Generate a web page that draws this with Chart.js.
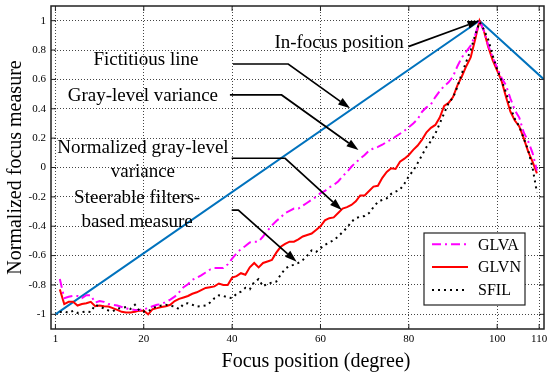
<!DOCTYPE html>
<html>
<head>
<meta charset="utf-8">
<script src="https://cdn.jsdelivr.net/npm/chart.js@4.4.0/dist/chart.umd.min.js"></script>
<style>
  html, body { margin: 0; padding: 0; background: #fff; }
</style>
</head>
<body>
<canvas id="myChart" width="550" height="378"></canvas>
<script>
// Data
const POSITIONS = Array.from({ length: 109 }, (_, i) => i + 1);

const GLVA = [
  -0.76, -0.89, -0.88, -0.875, -0.875, -0.89, -0.87, -0.87, -0.92, -0.91,
  -0.915, -0.93, -0.935, -0.94, -0.95, -0.96, -0.965, -0.97, -0.97, -0.965,
  -0.958, -0.945, -0.935, -0.93, -0.915, -0.9, -0.88, -0.85, -0.815, -0.795,
  -0.765, -0.75, -0.735, -0.715, -0.695, -0.685, -0.685, -0.685, -0.66, -0.62,
  -0.585, -0.555, -0.535, -0.51, -0.505, -0.505, -0.47, -0.43, -0.395, -0.365,
  -0.34, -0.31, -0.295, -0.28, -0.28, -0.26, -0.24, -0.22, -0.2, -0.175,
  -0.16, -0.135, -0.12, -0.095, -0.06, -0.03, 0.005, 0.035, 0.06, 0.085,
  0.115, 0.13, 0.14, 0.155, 0.175, 0.19, 0.21, 0.23, 0.25, 0.275,
  0.3, 0.33, 0.38, 0.41, 0.43, 0.48, 0.52, 0.555, 0.58, 0.62,
  0.69, 0.75, 0.79, 0.83, 0.9, 1.0, 0.93, 0.83, 0.75, 0.68,
  0.61, 0.56, 0.47, 0.39, 0.34, 0.24, 0.18, 0.1, -0.02
];

const GLVN = [
  -0.83, -0.93, -0.915, -0.915, -0.94, -0.93, -0.925, -0.915, -0.945, -0.94,
  -0.945, -0.947, -0.958, -0.97, -0.983, -0.987, -0.988, -0.983, -0.975, -0.975,
  -1.0, -0.965, -0.958, -0.95, -0.945, -0.935, -0.91, -0.895, -0.885, -0.875,
  -0.86, -0.85, -0.835, -0.82, -0.815, -0.81, -0.79, -0.8, -0.8, -0.75,
  -0.74, -0.72, -0.73, -0.68, -0.65, -0.68, -0.65, -0.64, -0.63, -0.58,
  -0.54, -0.52, -0.505, -0.505, -0.49, -0.47, -0.46, -0.45, -0.425, -0.4,
  -0.36, -0.345, -0.34, -0.31, -0.28, -0.27, -0.255, -0.23, -0.19, -0.19,
  -0.16, -0.13, -0.125, -0.07, -0.03, -0.005, -0.01, 0.04, 0.06, 0.085,
  0.12, 0.15, 0.19, 0.24, 0.27, 0.29, 0.34, 0.42, 0.44, 0.48,
  0.56, 0.62, 0.69, 0.75, 0.87, 1.0, 0.93, 0.82, 0.73, 0.66,
  0.59, 0.48, 0.38, 0.32, 0.28, 0.2, 0.11, 0.04, -0.04
];

const SFIL = [
  -0.985, -0.98, -0.99, -0.976, -0.99, -0.985, -0.98, -0.985, -0.935, -0.947,
  -0.96, -0.974, -0.98, -0.96, -0.958, -0.95, -0.963, -0.935, -0.974, -0.98,
  -0.98, -0.958, -0.947, -0.94, -0.935, -0.942, -0.947, -0.965, -0.93, -0.925,
  -0.935, -0.947, -0.945, -0.94, -0.92, -0.89, -0.87, -0.875, -0.885, -0.89,
  -0.86, -0.845, -0.82, -0.83, -0.78, -0.76, -0.81, -0.79, -0.785, -0.777,
  -0.73, -0.69, -0.67, -0.663, -0.65, -0.63, -0.6, -0.565, -0.575, -0.55,
  -0.527, -0.51, -0.495, -0.47, -0.44, -0.41, -0.37, -0.345, -0.335, -0.33,
  -0.31, -0.27, -0.235, -0.22, -0.21, -0.18, -0.165, -0.15, -0.11, -0.06,
  -0.02, 0.03, 0.085, 0.14, 0.18, 0.23, 0.3, 0.37, 0.44, 0.475,
  0.55, 0.64, 0.72, 0.8, 0.9, 0.99, 0.94, 0.87, 0.76, 0.67,
  0.59, 0.51, 0.41, 0.33, 0.28, 0.2, 0.12, 0.0, -0.17
];

// fictitious line: corner points
const FICT_X = [0, 96, 110.6];
const FICT_Y = [-1, 1, 0.6];

const X_TICKS = [0, 20, 40, 60, 80, 100, 109.5];
const X_TICK_LABELS = ['1', '20', '40', '60', '80', '100', '110'];
const Y_TICKS = [-1, -0.8, -0.6, -0.4, -0.2, 0, 0.2, 0.4, 0.6, 0.8, 1];
const Y_TICK_LABELS = ['-1', '-0.8', '-0.6', '-0.4', '-0.2', '0', '0.2', '0.4', '0.6', '0.8', '1'];

const SERIES_NAMES = ['GLVA', 'GLVN', 'SFIL'];

// text notes with leader arrows, in data units
const NOTES = [
  { lines: ['In-focus position'], at: [64.2, 0.848], path: [[79.9, 0.823], [96, 1]] },
  { lines: ['Fictitious line'], at: [20.5, 0.732], path: [[40.2, 0.705], [52.7, 0.705], [66.7, 0.403]] },
  { lines: ['Gray-level variance'], at: [19.8, 0.489], path: [[39.5, 0.494], [51.2, 0.494], [68.6, 0.119]] },
  { lines: ['Normalized gray-level', 'variance'], at: [19.8, 0.131], path: [[39.9, 0.063], [52, 0.063], [64.8, -0.29]] },
  { lines: ['Steerable filters-', 'based measure'], at: [18.5, -0.21], path: [[39.9, -0.29], [41.4, -0.29], [54.6, -0.642]] }
];

const SERIF = '"Liberation Serif", "Times New Roman", serif';
const STYLES = {
  GLVA: { color: '#ff00ff', dash: [9, 4, 2, 4] },
  GLVN: { color: '#ff0000', dash: [] },
  SFIL: { color: '#000000', dash: [2, 4] }
};

const toPoints = (values) => POSITIONS.map((p, i) => ({ x: p, y: values[i] }));

// Overlay: frame, inner ticks, notes, legend, x title
const drawArrow = (ctx, pts) => {
  const n = pts.length;
  const [tx, ty] = pts[n - 1];
  const [px, py] = pts[n - 2];
  const len = Math.hypot(tx - px, ty - py);
  const ux = (tx - px) / len, uy = (ty - py) / len;
  const head = 12, half = 4;
  const bx = tx - ux * head, by = ty - uy * head;
  ctx.beginPath();
  ctx.moveTo(pts[0][0], pts[0][1]);
  for (let i = 1; i < n - 1; i++) ctx.lineTo(pts[i][0], pts[i][1]);
  ctx.lineTo(bx, by);
  ctx.stroke();
  ctx.beginPath();
  ctx.moveTo(tx, ty);
  ctx.lineTo(bx - uy * half, by + ux * half);
  ctx.lineTo(bx + uy * half, by - ux * half);
  ctx.closePath();
  ctx.fill();
};

const overlay = {
  id: 'overlay',
  afterDraw(chart) {
    const { ctx, chartArea: a, scales: { x, y } } = chart;
    ctx.save();

    ctx.strokeStyle = '#222';
    ctx.lineWidth = 1.5;
    ctx.setLineDash([]);
    ctx.strokeRect(a.left, a.top, a.right - a.left, a.bottom - a.top);

    ctx.lineWidth = 1;
    ctx.beginPath();
    X_TICKS.forEach(v => {
      const px = x.getPixelForValue(v);
      ctx.moveTo(px, a.bottom); ctx.lineTo(px, a.bottom - 5);
      ctx.moveTo(px, a.top); ctx.lineTo(px, a.top + 5);
    });
    Y_TICKS.forEach(v => {
      const py = y.getPixelForValue(v);
      ctx.moveTo(a.left, py); ctx.lineTo(a.left + 5, py);
      ctx.moveTo(a.right, py); ctx.lineTo(a.right - 5, py);
    });
    ctx.stroke();

    // notes
    ctx.fillStyle = '#000';
    ctx.strokeStyle = '#000';
    ctx.lineWidth = 1.7;
    ctx.font = `19px ${SERIF}`;
    ctx.textAlign = 'center';
    ctx.textBaseline = 'middle';
    NOTES.forEach(note => {
      const tx = x.getPixelForValue(note.at[0]);
      const ty = y.getPixelForValue(note.at[1]);
      note.lines.forEach((line, i) => ctx.fillText(line, tx, ty + i * 23.5));
      const pts = note.path.map(([vx, vy]) => [x.getPixelForValue(vx), y.getPixelForValue(vy)]);
      drawArrow(ctx, pts);
    });

    // legend
    const lw = 101, lh = 72;
    const lx = a.right - 19 - lw, ly = a.bottom - 24 - lh;
    ctx.fillStyle = '#fff';
    ctx.fillRect(lx, ly, lw, lh);
    ctx.strokeStyle = '#222';
    ctx.lineWidth = 1.2;
    ctx.strokeRect(lx, ly, lw, lh);
    ctx.font = `16px ${SERIF}`;
    ctx.textAlign = 'left';
    SERIES_NAMES.forEach((name, i) => {
      const rowY = ly + 11.3 + i * 22.8;
      const st = STYLES[name];
      ctx.strokeStyle = st.color;
      ctx.lineWidth = 2;
      ctx.setLineDash(st.dash);
      ctx.beginPath();
      ctx.moveTo(lx + 8, rowY);
      ctx.lineTo(lx + 44, rowY);
      ctx.stroke();
      ctx.setLineDash([]);
      ctx.fillStyle = '#000';
      ctx.fillText(name, lx + 54, rowY + 1);
    });

    // x axis title
    ctx.font = `20px ${SERIF}`;
    ctx.textAlign = 'center';
    ctx.fillText('Focus position (degree)', a.left + 265, a.bottom + 33);

    ctx.restore();
  }
};

const ctx = document.getElementById('myChart');
const lineSet = (name, values) => ({
  label: name,
  data: toPoints(values),
  showLine: true,
  borderColor: STYLES[name].color,
  borderDash: STYLES[name].dash,
  borderWidth: 2,
  pointRadius: 0,
  tension: 0,
  order: 1
});

const chart = new Chart(ctx, {
  type: 'scatter',
  data: {
    datasets: [
      {
        label: 'Fictitious line',
        data: FICT_X.map((v, i) => ({ x: v, y: FICT_Y[i] })),
        showLine: true,
        borderColor: '#0072bd',
        borderWidth: 2,
        pointRadius: 0,
        order: 2
      },
      lineSet('SFIL', SFIL),
      lineSet('GLVA', GLVA),
      lineSet('GLVN', GLVN)
    ]
  },
  options: {
    responsive: false,
    animation: false,
    devicePixelRatio: 1,
    layout: { padding: { left: 0, right: 6, top: 6, bottom: 0 } },
    plugins: {
      legend: { display: false },
      tooltip: { enabled: false }
    },
    scales: {
      x: {
        type: 'linear',
        min: -1,
        max: 110.6,
        afterBuildTicks: (s) => { s.ticks = X_TICKS.map(v => ({ value: v })); },
        afterFit: (s) => { s.height = 49; s.paddingLeft = 0; s.paddingRight = 0; },
        ticks: {
          autoSkip: false,
          maxRotation: 0,
          padding: 4,
          color: '#000',
          font: { family: SERIF, size: 11 },
          callback: (v, i) => X_TICK_LABELS[i]
        },
        grid: { color: '#444', lineWidth: 1, drawTicks: false },
        border: { display: false, dash: [1, 2] }
      },
      y: {
        min: -1.1,
        max: 1.1,
        afterBuildTicks: (s) => { s.ticks = Y_TICKS.map(v => ({ value: v })); },
        afterFit: (s) => { s.width = 51; s.paddingTop = 0; s.paddingBottom = 0; },
        ticks: {
          autoSkip: false,
          padding: 5,
          color: '#000',
          font: { family: SERIF, size: 11 },
          callback: (v, i) => Y_TICK_LABELS[i]
        },
        title: {
          display: true,
          text: 'Normalized focus measure',
          color: '#000',
          font: { family: SERIF, size: 20 },
          padding: 4
        },
        grid: { color: '#444', lineWidth: 1, drawTicks: false },
        border: { display: false, dash: [1, 2] }
      }
    }
  },
  plugins: [overlay]
});
</script>
</body>
</html>
